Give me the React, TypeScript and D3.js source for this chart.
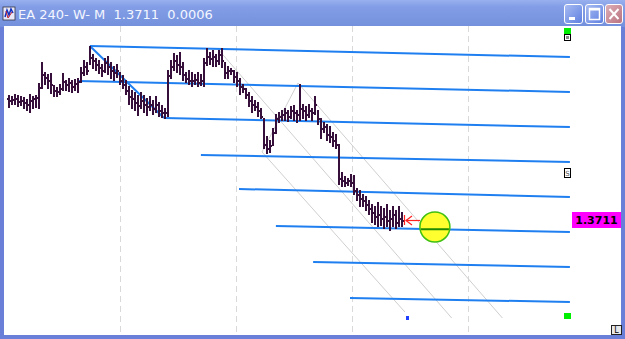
import React from 'react';
import * as d3 from 'd3';

// ---- OHLC data (4h bars) ----
const highs = [
  1.3836, 1.3835, 1.3837, 1.3836, 1.3835, 1.3834, 1.3832, 1.3837, 1.3835, 1.3836,
  1.3848, 1.3869, 1.3859, 1.3857, 1.3858, 1.3846, 1.3844, 1.3847, 1.3858, 1.3851,
  1.3853, 1.3851, 1.3852, 1.3853, 1.3864, 1.3871, 1.3869, 1.3885, 1.3877, 1.3873,
  1.3871, 1.3867, 1.3873, 1.3875, 1.3869, 1.3865, 1.3867, 1.3859, 1.3856, 1.3851,
  1.3845, 1.3841, 1.3839, 1.3836, 1.3839, 1.3836, 1.3833, 1.3835, 1.3831, 1.3835,
  1.3829, 1.3826, 1.3823, 1.3861, 1.3871, 1.3878, 1.3876, 1.3879, 1.3869, 1.3859,
  1.3861, 1.3859, 1.3857, 1.3859, 1.3857, 1.3873, 1.3883, 1.3879, 1.3881, 1.3877,
  1.3881, 1.3883, 1.3869, 1.3865, 1.3863, 1.3861, 1.3859, 1.3853, 1.3847, 1.3843,
  1.3839, 1.3835, 1.3831, 1.3829, 1.3823, 1.3813, 1.3795, 1.3791, 1.3803, 1.3817,
  1.3819, 1.3821, 1.3823, 1.3821, 1.3825, 1.3826, 1.3821, 1.3847, 1.3827, 1.3825,
  1.3827, 1.3823, 1.3835, 1.3821, 1.3813, 1.3809, 1.3807, 1.3805, 1.3799, 1.3797,
  1.3787, 1.3759, 1.3755, 1.3753, 1.3757, 1.3756, 1.3743, 1.3741, 1.3737, 1.3735,
  1.3731, 1.3727, 1.3725, 1.3729, 1.3725, 1.3723, 1.3727, 1.3721, 1.3725, 1.3721, 1.3725, 1.3719,
];
const lows = [
  1.3824, 1.3827, 1.3827, 1.3825, 1.3826, 1.3823, 1.3821, 1.3819, 1.3823, 1.3824,
  1.3823, 1.3843, 1.3847, 1.3843, 1.3838, 1.3835, 1.3835, 1.3837, 1.3841, 1.3841,
  1.3840, 1.3839, 1.3841, 1.3839, 1.3849, 1.3856, 1.3857, 1.3867, 1.3863, 1.3861,
  1.3858, 1.3855, 1.3859, 1.3857, 1.3853, 1.3851, 1.3854, 1.3847, 1.3843, 1.3837,
  1.3827, 1.3823, 1.3821, 1.3816, 1.3823, 1.3819, 1.3816, 1.3821, 1.3817, 1.3819,
  1.3815, 1.3814, 1.3813, 1.3815, 1.3853, 1.3861, 1.3859, 1.3857, 1.3851, 1.3849,
  1.3847, 1.3845, 1.3847, 1.3845, 1.3846, 1.3845, 1.3866, 1.3867, 1.3865, 1.3865,
  1.3867, 1.3864, 1.3853, 1.3853, 1.3857, 1.3849, 1.3845, 1.3837, 1.3839, 1.3833,
  1.3825, 1.3819, 1.3821, 1.3815, 1.3813, 1.3783, 1.3778, 1.3779, 1.3786, 1.3798,
  1.3809, 1.3811, 1.3811, 1.3810, 1.3813, 1.3811, 1.3809, 1.3811, 1.3813, 1.3811,
  1.3814, 1.3811, 1.3817, 1.3807, 1.3793, 1.3799, 1.3791, 1.3789, 1.3785, 1.3783,
  1.3747, 1.3745, 1.3745, 1.3746, 1.3745, 1.3737, 1.3731, 1.3725, 1.3725, 1.3721,
  1.3717, 1.3709, 1.3707, 1.3705, 1.3706, 1.3703, 1.3705, 1.3701, 1.3705, 1.3703, 1.3705, 1.3705,
];
const closes = [
  1.3831, 1.3832, 1.3833, 1.3830, 1.3831, 1.3829, 1.3827, 1.3831, 1.3833, 1.3834,
  1.3844, 1.3857, 1.3854, 1.3851, 1.3847, 1.3841, 1.3840, 1.3843, 1.3850, 1.3847,
  1.3849, 1.3845, 1.3848, 1.3850, 1.3859, 1.3865, 1.3861, 1.3874, 1.3871, 1.3867,
  1.3864, 1.3861, 1.3869, 1.3865, 1.3861, 1.3859, 1.3861, 1.3851, 1.3847, 1.3841,
  1.3835, 1.3833, 1.3829, 1.3826, 1.3831, 1.3827, 1.3825, 1.3827, 1.3823, 1.3827,
  1.3821, 1.3819, 1.3819, 1.3856, 1.3865, 1.3871, 1.3867, 1.3865, 1.3857, 1.3853,
  1.3851, 1.3851, 1.3852, 1.3849, 1.3851, 1.3869, 1.3875, 1.3873, 1.3875, 1.3871,
  1.3877, 1.3871, 1.3859, 1.3861, 1.3861, 1.3855, 1.3851, 1.3845, 1.3843, 1.3837,
  1.3831, 1.3827, 1.3825, 1.3821, 1.3815, 1.3787, 1.3783, 1.3786, 1.3799, 1.3813,
  1.3815, 1.3817, 1.3819, 1.3815, 1.3821, 1.3819, 1.3817, 1.3823, 1.3821, 1.3817,
  1.3821, 1.3819, 1.3827, 1.3813, 1.3803, 1.3805, 1.3797, 1.3795, 1.3791, 1.3787,
  1.3753, 1.3751, 1.3749, 1.3751, 1.3749, 1.3741, 1.3737, 1.3733, 1.3731, 1.3727,
  1.3723, 1.3719, 1.3715, 1.3717, 1.3713, 1.3715, 1.3711, 1.3713, 1.3717, 1.3709, 1.3713, 1.3711,
];
const firstOpen = 1.3833;

// ---- Drawn objects (bar index, price) ----
const levelStartIdx = [27.3, 23.3, 52, 64.3, 77, 89.3, 101.7, 114];
const levelStartPrice = [1.3885, 1.385, 1.3813, 1.3776, 1.3742, 1.3705, 1.3669, 1.3633];
const levelEndPrice = [1.3874, 1.3839, 1.3804, 1.3769, 1.3734, 1.3699, 1.3664, 1.3629];
const levelEndIdx = 187.3;

const channelIdx = [27.3, 52];
const channelPrice = [1.3885, 1.3813];

const grayStartIdx = [84.67, 96.67, 69.67, 84.67];
const grayStartPrice = [1.3779, 1.3848, 1.3883, 1.3779];
const grayEndIdx = [96.67, 164.8, 147.9, 132.3];
const grayEndPrice = [1.3848, 1.3613, 1.3613, 1.3619];

const gridIdx = [37.33, 76, 114.67, 153.33];

const lastPrice = 1.3711;
const change = 0.0006;
const titleText = `EA 240- W- M  ${lastPrice.toFixed(4)}  ${change.toFixed(4)}`;
const targetIdx = 142.3;
const targetPrice = 1.3704;

const W = 625;
const H = 339;

export default function App() {
  const x = d3.scaleLinear().domain([0, 131]).range([8, 401]);
  const y = d3.scaleLinear().domain([1.3598, 1.3905]).range([333, 26]);
  const opens = closes.map((_, i) => (i === 0 ? firstOpen : closes[i - 1]));
  const barColor = '#36103a';
  const blue = '#1f7ff0';
  const lastX = x(closes.length - 1);
  const lastY = y(lastPrice);
  const tx = x(targetIdx);
  const ty = y(targetPrice);
  const lvl6y = y(levelStartPrice[5]) + (y(levelEndPrice[5]) - y(levelStartPrice[5])) * ((targetIdx - levelStartIdx[5]) / (levelEndIdx - levelStartIdx[5]));

  return (
    <svg width={W} height={H} style={{ position: 'fixed', left: 0, top: 0 }}>
      <defs>
        <linearGradient id="tb" x1="0" y1="0" x2="0" y2="1">
          <stop offset="0" stopColor="#98b0ee" />
          <stop offset="0.25" stopColor="#839ee6" />
          <stop offset="1" stopColor="#7390dc" />
        </linearGradient>
        <linearGradient id="btn" x1="0" y1="0" x2="1" y2="1">
          <stop offset="0" stopColor="#a9bdf2" />
          <stop offset="1" stopColor="#5d7ee0" />
        </linearGradient>
        <linearGradient id="btnc" x1="0" y1="0" x2="1" y2="1">
          <stop offset="0" stopColor="#deb0b8" />
          <stop offset="1" stopColor="#b8707e" />
        </linearGradient>
        <clipPath id="plot">
          <rect x={4} y={26} width={617} height={309} />
        </clipPath>
      </defs>
      {/* window frame */}
      <rect x={0} y={0} width={W} height={H} fill="#6a80d8" />
      <rect x={0} y={0} width={W} height={27} fill="url(#tb)" />
      <rect x={4} y={26} width={617} height={309} fill="#ffffff" />
      {/* title icon */}
      <rect x={3} y={7} width={12} height={13} fill="#e8e8f8" stroke="#334" strokeWidth={0.8} />
      <path d="M5,17 L7,10 L9,15 L11,9 L13,13" fill="none" stroke="#1030c0" strokeWidth={1.5} />
      <path d="M6,11 L8,18 L12,12" fill="none" stroke="#c02030" strokeWidth={1} />
      <text x={18} y={19} fill="#f4f6ff" fontFamily="DejaVu Sans, Verdana, sans-serif" fontSize={13} style={{ whiteSpace: 'pre' }}>
        {titleText}
      </text>
      {/* buttons */}
      <rect x={564.5} y={4.5} width={18} height={19} rx={2.5} fill="url(#btn)" stroke="#fff" strokeWidth={1} />
      <rect x={569} y={17} width={6} height={3} fill="#fff" />
      <rect x={585.5} y={4.5} width={18} height={19} rx={2.5} fill="url(#btn)" stroke="#fff" strokeWidth={1} />
      <rect x={589.5} y={8.5} width={10} height={11} fill="none" stroke="#fff" strokeWidth={1.5} />
      <rect x={589.5} y={8} width={10} height={2.5} fill="#fff" />
      <rect x={605.5} y={4.5} width={17} height={19} rx={2.5} fill="url(#btnc)" stroke="#fff" strokeWidth={1} />
      <path d="M609.5,9 L618.5,19 M618.5,9 L609.5,19" stroke="#fff" strokeWidth={2} />

      <g clipPath="url(#plot)">
        {/* grid */}
        {gridIdx.map((g, i) => (
          <line key={'g' + i} x1={Math.round(x(g)) + 0.5} x2={Math.round(x(g)) + 0.5} y1={26} y2={335} stroke="#d9d9d9" strokeDasharray="6,4" />
        ))}
        {/* gray fan lines */}
        {grayStartIdx.map((s, i) => (
          <line key={'gl' + i} x1={x(s)} y1={y(grayStartPrice[i])} x2={x(grayEndIdx[i])} y2={y(grayEndPrice[i])} stroke="#cfcfcf" strokeWidth={1} />
        ))}
        {/* horizontal levels */}
        {levelStartIdx.map((s, i) => (
          <line key={'l' + i} x1={x(s)} y1={y(levelStartPrice[i])} x2={x(levelEndIdx)} y2={y(levelEndPrice[i])} stroke={blue} strokeWidth={2} />
        ))}
        <line x1={x(channelIdx[0])} y1={y(channelPrice[0])} x2={x(channelIdx[1])} y2={y(channelPrice[1])} stroke={blue} strokeWidth={2} />
        {/* bars */}
        <g fill={barColor} shapeRendering="crispEdges">
          {closes.map((c, i) => {
            const cx = Math.round(x(i));
            const hy = Math.round(y(highs[i]));
            const ly = Math.round(y(lows[i]));
            const oy = Math.round(y(opens[i]));
            const cy = Math.round(y(c));
            return (
              <g key={'b' + i}>
                <rect x={cx} y={hy} width={2} height={Math.max(1, ly - hy + 1)} />
                <rect x={cx - 1} y={oy} width={1} height={2} />
                <rect x={cx + 2} y={cy} width={1} height={2} />
              </g>
            );
          })}
        </g>
        {/* red arrow */}
        <g stroke="#ff2020" strokeWidth={1.2} fill="none">
          <line x1={lastX + 5} x2={lastX + 19} y1={lastY + 0.5} y2={lastY + 0.5} />
          <path d={`M${lastX + 11},${lastY - 4} L${lastX + 5},${lastY + 0.5} L${lastX + 11},${lastY + 5}`} />
          <line x1={lastX + 3.5} x2={lastX + 3.5} y1={lastY - 5} y2={lastY + 5} />
        </g>
        {/* target circle */}
        <circle cx={tx} cy={ty} r={15} fill="#ffff30" stroke="#40c010" strokeWidth={1.5} />
        <line x1={tx - 14} x2={tx + 14} y1={lvl6y} y2={lvl6y} stroke="#208a00" strokeWidth={2} />
        {/* small markers */}
        <rect x={406} y={316} width={3} height={4} fill="#2040ff" />
      </g>
      {/* right-side markers */}
      <rect x={564} y={28} width={7} height={6} fill="#00ee00" />
      <rect x={564.5} y={34.5} width={6} height={6} fill="#fff" stroke="#000" strokeWidth={1} />
      <rect x={566} y={36} width={3} height={3} fill="#888" />
      <rect x={564.5} y={168.5} width={6} height={9} fill="#fff" stroke="#000" strokeWidth={1} />
      <text x={567.5} y={176} fontSize={7} fontFamily="DejaVu Sans, sans-serif" textAnchor="middle" fill="#555">S</text>
      <rect x={564} y={313} width={7} height={6} fill="#00ee00" />
      {/* price label */}
      <rect x={572} y={lastY - 8} width={49} height={16} fill="#ff00ff" />
      <text x={596.5} y={lastY + 4} fontSize={11} fontWeight="bold" fontFamily="DejaVu Sans, Verdana, sans-serif" textAnchor="middle" fill="#000">
        {lastPrice.toFixed(4)}
      </text>
      {/* L box */}
      <rect x={611.5} y={325.5} width={10} height={9} fill="#e8e8e8" stroke="#222" strokeWidth={1} />
      <text x={616.5} y={333} fontSize={8} fontFamily="DejaVu Sans, sans-serif" textAnchor="middle" fill="#000">L</text>
    </svg>
  );
}
